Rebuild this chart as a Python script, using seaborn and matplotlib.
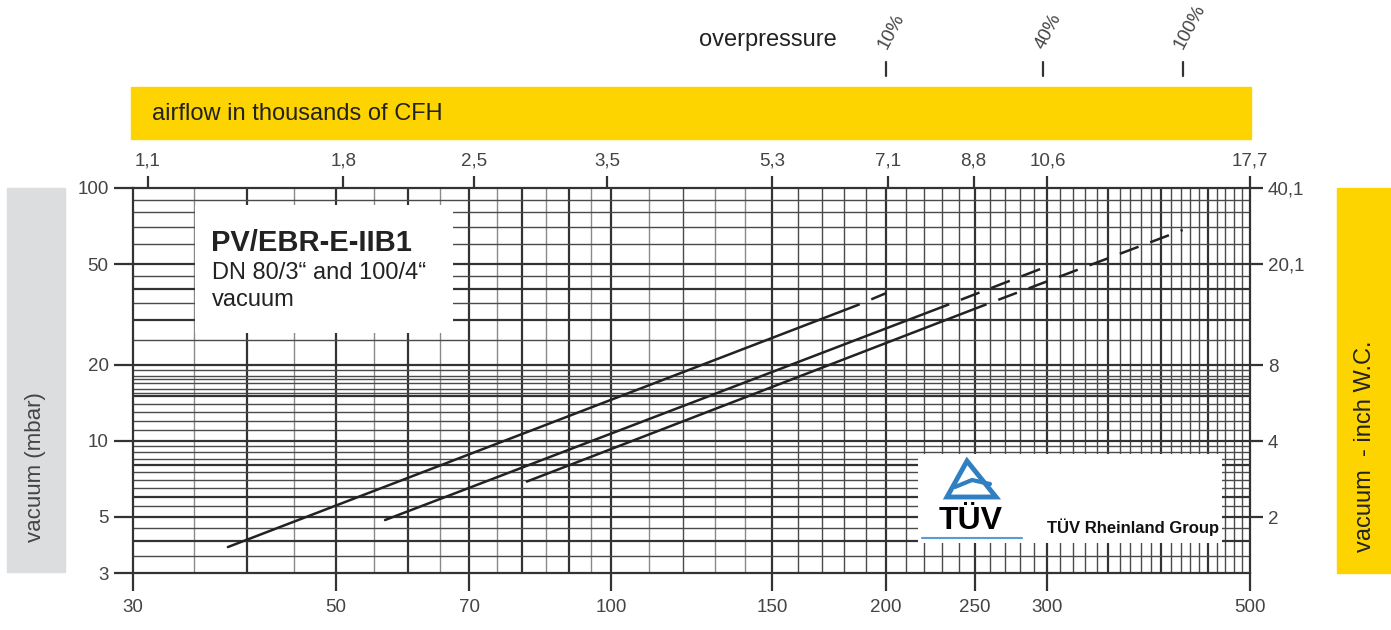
import matplotlib
matplotlib.use("Agg")
import matplotlib.pyplot as plt
import matplotlib.transforms as mtransforms
from matplotlib.patches import Rectangle, Polygon
from matplotlib.lines import Line2D
from matplotlib.ticker import NullLocator, FixedLocator
import seaborn as sns
import pandas as pd

# ---- data ----
overpressure = ["10%", "40%", "100%"]
# each curve: start, end of solid part, end of dashed part (m3/h, mbar)
curve_x = [[38.1, 186, 200], [56.6, 233, 297], [80.9, 256, 422]]
curve_y = [[3.8, 34.4, 38.4], [4.86, 34.4, 48.3], [6.9, 34.4, 68.2]]

x_ticks = [30, 50, 70, 100, 150, 200, 250, 300, 500]
y_ticks = [3, 5, 10, 20, 50, 100]
cfh_ticks = [1.1, 1.8, 2.5, 3.5, 5.3, 7.1, 8.8, 10.6, 17.7]
inch_ticks = [1.2, 2, 4, 8, 20.1, 40.1]

# grid of the log paper
vgrid_major = [40, 50, 60, 70, 80, 90, 100, 150, 200, 250, 300, 350, 400, 450]
vgrid_minor = [120, 160, 170, 180, 190, 210, 220, 230, 240, 260, 270, 280, 290,
               310, 320, 330, 340, 360, 370, 380, 390, 410, 420, 430, 440,
               460, 470, 480, 490]
vgrid_light = [35, 45, 55, 65, 75, 85, 95, 110, 130, 140]
hgrid_major = [4, 5, 6, 8, 10, 15, 20, 30, 40, 50]
hgrid_minor = [3.5, 4.5, 5.5, 6.5, 7, 7.5, 8.5, 9, 9.5, 11, 12, 13, 14, 15.5,
               16, 17, 17.5, 18, 19, 25, 35, 45, 60, 70, 80, 90]

CFH = 0.035315      # thousand CFH per m3/h
INCH = 0.40146      # inch W.C. per mbar
YELLOW = "#FDD300"
DARK = "#333333"
TXT = "#444444"

sns.set_style("white")
plt.rcParams["font.family"] = ["Liberation Sans", "DejaVu Sans"]

W, H = 1391, 630
fig = plt.figure(figsize=(W / 100, H / 100), dpi=100)
ax = fig.add_axes([133 / W, 1 - 573 / H, (1250 - 133) / W, (573 - 188) / H])
ax.set_xscale("log")
ax.set_yscale("log")
ax.set_xlim(30, 500)
ax.set_ylim(3, 100)

for v in vgrid_major:
    ax.axvline(v, color=DARK, lw=1.6, zorder=1)
for v in vgrid_minor:
    ax.axvline(v, color="#4a4a4a", lw=1.0, zorder=1)
for v in vgrid_light:
    ax.axvline(v, color="#8a8a8a", lw=1.0, zorder=1)
for h in hgrid_major:
    ax.axhline(h, color=DARK, lw=1.6, zorder=1)
for h in hgrid_minor:
    ax.axhline(h, color="#4a4a4a", lw=1.0, zorder=1)

# white label boxes on the paper
def px_box(x0, y0, x1, y1):
    return Rectangle((x0 / W, 1 - y1 / H), (x1 - x0) / W, (y1 - y0) / H,
                     transform=fig.transFigure, facecolor="white",
                     edgecolor="none", zorder=2)
ax.add_patch(px_box(195, 205, 453, 333))
ax.add_patch(px_box(918, 454, 1222, 543))

# curves
for name, xs, ys in zip(overpressure, curve_x, curve_y):
    solid = pd.DataFrame({"x": xs[:2], "y": ys[:2]})
    dash = pd.DataFrame({"x": xs[1:], "y": ys[1:]})
    sns.lineplot(data=solid, x="x", y="y", ax=ax, color="#222222", lw=1.8,
                 zorder=3, legend=False)
    sns.lineplot(data=dash, x="x", y="y", ax=ax, color="#222222", lw=1.8,
                 zorder=3, legend=False, linestyle=(7, (8, 5)))

ax.set_xlabel("")
ax.set_ylabel("")
for sp in ax.spines.values():
    sp.set_color(DARK)
    sp.set_linewidth(1.6)
    sp.set_zorder(4)

ax.xaxis.set_major_locator(FixedLocator(x_ticks))
ax.xaxis.set_minor_locator(NullLocator())
ax.set_xticklabels([str(t) for t in x_ticks])
ax.yaxis.set_major_locator(FixedLocator(y_ticks))
ax.yaxis.set_minor_locator(NullLocator())
ax.set_yticklabels([str(t) for t in y_ticks])
ax.tick_params(axis="x", direction="out", length=13, width=1.6, color=DARK,
               labelsize=13.5, labelcolor=TXT, pad=6, bottom=True)
ax.tick_params(axis="y", direction="out", length=14, width=1.6, color=DARK,
               labelsize=13.5, labelcolor=TXT, pad=3.5, left=True)

# top scale: last label sits on the axis edge
top_max = 500 * CFH
top = ax.secondary_xaxis("top", functions=(lambda x: x * CFH, lambda x: x / CFH))
top.xaxis.set_major_locator(FixedLocator([min(t, top_max) for t in cfh_ticks]))
top.xaxis.set_minor_locator(NullLocator())
top.set_xticklabels([f"{t:g}".replace(".", ",") for t in cfh_ticks])
top.tick_params(direction="out", length=9, width=1.6, color=DARK,
                labelsize=13.5, labelcolor=TXT, pad=4)
top.spines["top"].set_visible(False)

right = ax.secondary_yaxis("right", functions=(lambda y: y * INCH, lambda y: y / INCH))
right.yaxis.set_major_locator(FixedLocator(inch_ticks))
right.yaxis.set_minor_locator(NullLocator())
right.set_yticklabels([f"{t:g}".replace(".", ",") for t in inch_ticks])
right.tick_params(direction="out", length=9, width=1.6, color=DARK,
                  labelsize=13.5, labelcolor=TXT, pad=4)
right.spines["right"].set_visible(False)

# bands and side boxes
fig.patches.append(Rectangle((131 / W, 1 - 139 / H), 1120 / W, 52 / H,
                             transform=fig.transFigure, color=YELLOW, zorder=0))
fig.patches.append(Rectangle((7 / W, 1 - 572 / H), 58 / W, 384 / H,
                             transform=fig.transFigure, color="#DCDDDF", zorder=0))
fig.patches.append(Rectangle((1337 / W, 1 - 573 / H), 54 / W, 385 / H,
                             transform=fig.transFigure, color=YELLOW, zorder=0))

fig.text(152 / W, 1 - 114 / H, "airflow in thousands of CFH", fontsize=17,
         color="#222222", va="center", ha="left")
fig.text(36 / W, 1 - 467 / H, "vacuum (mbar)", fontsize=16, color=TXT,
         rotation=90, va="center", ha="center")
fig.text(1365 / W, 1 - 446 / H, "vacuum  - inch W.C.", fontsize=17,
         color="#222222", rotation=90, va="center", ha="center")
fig.text(768 / W, 1 - 40 / H, "overpressure", fontsize=17, color="#222222",
         va="center", ha="center")

# overpressure markers at the curve ends
blend = mtransforms.blended_transform_factory(ax.transData, fig.transFigure)
for name, xs in zip(overpressure, curve_x):
    fig.add_artist(Line2D([xs[-1], xs[-1]], [1 - 62 / H, 1 - 76 / H],
                          transform=blend, color=DARK, lw=1.6))
    fig.text(xs[-1], 1 - 50 / H, name, transform=blend, rotation=62,
             rotation_mode="anchor", ha="left", va="baseline",
             fontsize=13.5, color=TXT)

# title block
fig.text(211 / W, 1 - 243 / H, "PV/EBR-E-IIB1", fontsize=21, fontweight="bold",
         color="#222222", va="center", ha="left", zorder=5)
fig.text(212 / W, 1 - 273 / H, "DN 80/3\u201c and 100/4\u201c", fontsize=17,
         color="#222222", va="center", ha="left", zorder=5)
fig.text(212 / W, 1 - 300 / H, "vacuum", fontsize=17, color="#222222",
         va="center", ha="left", zorder=5)

# TÜV logo
tri = [(967 / W, 1 - 461 / H), (947 / W, 1 - 497 / H), (996 / W, 1 - 497 / H)]
fig.add_artist(Polygon(tri, closed=True, transform=fig.transFigure,
                       facecolor="none", edgecolor="#2F7FC1", lw=3.5, zorder=6))
fig.add_artist(Line2D([955 / W, 972 / W, 990 / W],
                      [1 - 487 / H, 1 - 480 / H, 1 - 484 / H],
                      transform=fig.transFigure, color="#2F7FC1", lw=3, zorder=6))
fig.text(971 / W, 1 - 521 / H, "TÜV", fontsize=23, fontweight="bold",
         color="black", va="center", ha="center", zorder=6)
fig.add_artist(Line2D([922 / W, 1022 / W], [1 - 538 / H, 1 - 538 / H],
                      transform=fig.transFigure, color="#5B9BD5", lw=1.5, zorder=6))
fig.text(1047 / W, 1 - 527 / H, "TÜV Rheinland Group", fontsize=12,
         fontweight="bold", color="#111111", va="center", ha="left", zorder=6)

fig.savefig("out.png", dpi=100, facecolor="white")
